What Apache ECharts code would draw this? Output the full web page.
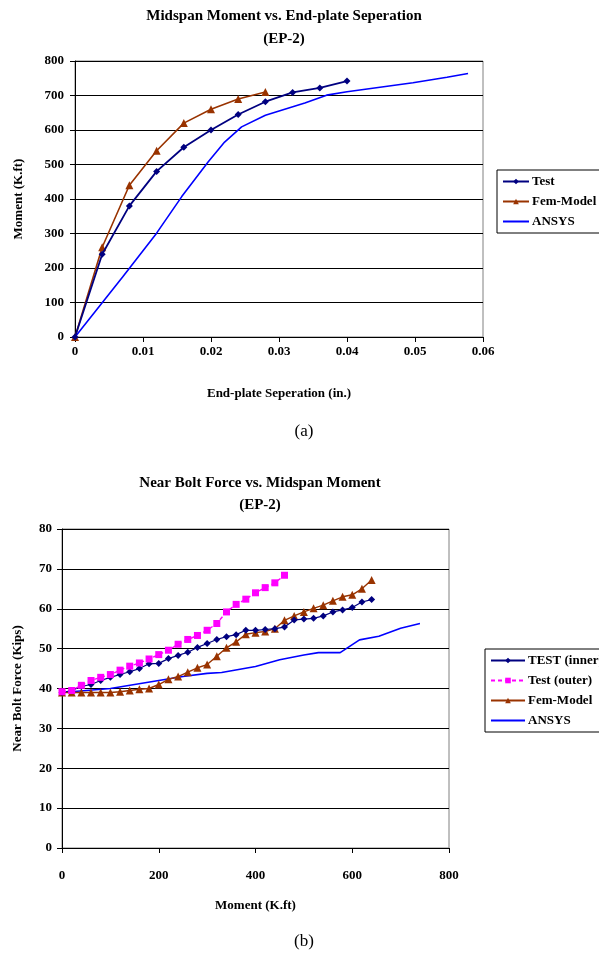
<!DOCTYPE html>
<html>
<head>
<meta charset="utf-8">
<script src="https://cdn.jsdelivr.net/npm/echarts@6/dist/echarts.min.js"></script>
<style>
html,body{margin:0;padding:0;background:#fff;}
#chart{width:599px;height:954px;}
</style>
</head>
<body>
<div id="chart"></div>
<script>
// ---- Chart (a): Midspan Moment vs. End-plate Seperation ----
const sepTest = [0, 0.004, 0.008, 0.012, 0.016, 0.020, 0.024, 0.028, 0.032, 0.036, 0.040];
const momTest = [0, 240, 380, 480, 550, 600, 645, 682, 709, 722, 742];
const sepFem = [0, 0.004, 0.008, 0.012, 0.016, 0.020, 0.024, 0.028];
const momFem = [0, 260, 440, 540, 620, 660, 690, 710];
const sepAnsys = [0, 0.007, 0.012, 0.0157, 0.0196, 0.022, 0.0245, 0.028, 0.0338, 0.037, 0.040, 0.0497, 0.0547, 0.0578];
const momAnsys = [0, 174, 301, 407, 508, 565, 609, 643, 678, 701, 711, 737, 753, 764];

// ---- Chart (b): Near Bolt Force vs. Midspan Moment ----
const momInner = [0, 20, 40, 60, 80, 100, 120, 140, 160, 180, 200, 220, 240, 260, 280, 300, 320, 340, 360, 380, 400, 420, 440, 460, 480, 500, 520, 540, 560, 580, 600, 620, 640];
const forceInner = [39, 39.5, 40.5, 41, 42, 42.8, 43.5, 44.2, 45, 46.2, 46.3, 47.5, 48.3, 49.1, 50.3, 51.3, 52.3, 53, 53.5, 54.6, 54.6, 54.8, 55, 55.4, 57.2, 57.4, 57.6, 58.2, 59.2, 59.7, 60.3, 61.7, 62.3];
const momOuter = [0, 20, 40, 60, 80, 100, 120, 140, 160, 180, 200, 220, 240, 260, 280, 300, 320, 340, 360, 380, 400, 420, 440, 460];
const forceOuter = [39.2, 39.5, 40.8, 42.0, 42.8, 43.5, 44.6, 45.6, 46.4, 47.4, 48.5, 49.6, 51.1, 52.3, 53.3, 54.6, 56.3, 59.2, 61.1, 62.4, 64.0, 65.3, 66.5, 68.4];
const momFemB = [0, 20, 40, 60, 80, 100, 120, 140, 160, 180, 200, 220, 240, 260, 280, 300, 320, 340, 360, 380, 400, 420, 440, 460, 480, 500, 520, 540, 560, 580, 600, 620, 640];
const forceFemB = [39, 39, 39, 39, 39, 39, 39.2, 39.5, 39.8, 40, 41, 42.3, 43, 44.1, 45.2, 46, 48.1, 50.2, 51.7, 53.6, 54, 54.3, 55, 57.1, 58.2, 59.2, 60.1, 60.9, 62, 63, 63.5, 65, 67.2];
const momAnsysB = [0, 100, 200, 250, 300, 330, 400, 450, 500, 530, 575, 615, 655, 700, 740];
const forceAnsysB = [39, 40, 42, 43, 43.8, 44, 45.5, 47.2, 48.4, 49, 49, 52.2, 53.1, 55.1, 56.3];

const xTicksA = ['0', '0.01', '0.02', '0.03', '0.04', '0.05', '0.06'];
const yTicksA = ['0', '100', '200', '300', '400', '500', '600', '700', '800'];
const xTicksB = ['0', '200', '400', '600', '800'];
const yTicksB = ['0', '10', '20', '30', '40', '50', '60', '70', '80'];

const pair = (xs, ys) => xs.map((x, i) => [x, ys[i]]);

const FONT = '"Liberation Serif", "Times New Roman", serif';
const NAVY = '#000080', BROWN = '#993300', BLUE = '#0000FF', MAGENTA = '#FF00FF';

function axisCommon(extra) {
  return Object.assign({
    axisLine: { show: true, onZero: false, lineStyle: { color: '#000', width: 1 } },
    axisTick: { show: true, inside: false, length: 5, lineStyle: { color: '#000' } },
    splitLine: { show: false },
    axisLabel: { color: '#000', fontFamily: FONT, fontWeight: 'bold', fontSize: 13 },
    nameTextStyle: { color: '#000', fontFamily: FONT, fontWeight: 'bold', fontSize: 13 },
    nameLocation: 'middle'
  }, extra);
}

const legendText = { fontFamily: FONT, fontWeight: 'bold', fontSize: 13, color: '#000', padding: [0, 0, 0, -2] };
const noSymbol = { opacity: 0 };

const chart = echarts.init(document.getElementById('chart'), null, { renderer: 'canvas' });

const option = {
  backgroundColor: '#fff',
  animation: false,
  title: [
    { text: 'Midspan Moment vs. End-plate Seperation\n(EP-2)', left: 279, top: 0, textAlign: 'center',
      textStyle: { fontFamily: FONT, fontWeight: 'bold', fontSize: 15, color: '#000', lineHeight: 23 } },
    { text: 'Near Bolt Force vs. Midspan Moment\n(EP-2)', left: 255, top: 467, textAlign: 'center',
      textStyle: { fontFamily: FONT, fontWeight: 'bold', fontSize: 15, color: '#000', lineHeight: 22 } },
    { text: '(a)', left: 299, top: 418, textAlign: 'center',
      textStyle: { fontFamily: FONT, fontWeight: 'normal', fontSize: 17, color: '#000' } },
    { text: '(b)', left: 299, top: 928, textAlign: 'center',
      textStyle: { fontFamily: FONT, fontWeight: 'normal', fontSize: 17, color: '#000' } }
  ],
  legend: [
    { data: ['Test', 'Fem-Model', { name: 'ANSYS', itemStyle: noSymbol }], orient: 'vertical', left: 497, top: 170,
      itemWidth: 26, itemHeight: 7, itemGap: 7, selectedMode: false,
      backgroundColor: '#fff', borderColor: '#000', borderWidth: 1, borderRadius: 0,
      padding: [5, 4, 5, 5], textStyle: legendText },
    { data: ['TEST (inner)', 'Test (outer)', 'Fem-Model', { name: 'ANSYS', itemStyle: noSymbol }], orient: 'vertical', left: 485, top: 649,
      itemWidth: 34, itemHeight: 7, itemGap: 7, selectedMode: false,
      backgroundColor: '#fff', borderColor: '#000', borderWidth: 1, borderRadius: 0,
      padding: [5, 4, 5, 5], textStyle: legendText }
  ],
  grid: [
    { left: 75, top: 61, width: 408, height: 276, show: true, borderColor: '#808080', borderWidth: 1, backgroundColor: 'transparent' },
    { left: 62, top: 529, width: 387, height: 319, show: true, borderColor: '#808080', borderWidth: 1, backgroundColor: 'transparent' }
  ],
  xAxis: [
    axisCommon({ type: 'value', gridIndex: 0, min: 0, max: 0.06, interval: 0.01,
      name: 'End-plate Seperation (in.)', nameGap: 50,
      axisLabel: { color: '#000', fontFamily: FONT, fontWeight: 'bold', fontSize: 13, margin: 8,
        formatter: v => xTicksA[Math.round(v / 0.01)] } }),
    axisCommon({ type: 'value', gridIndex: 1, min: 0, max: 800, interval: 200,
      name: 'Moment (K.ft)', nameGap: 51,
      axisLabel: { color: '#000', fontFamily: FONT, fontWeight: 'bold', fontSize: 13, margin: 21,
        formatter: v => xTicksB[Math.round(v / 200)] } })
  ],
  yAxis: [
    axisCommon({ type: 'value', gridIndex: 0, min: 0, max: 800, interval: 100,
      name: 'Moment (K.ft)', nameGap: 50, nameRotate: 90,
      splitLine: { show: true, lineStyle: { color: '#000', width: 1 } },
      axisLabel: { color: '#000', fontFamily: FONT, fontWeight: 'bold', fontSize: 13, margin: 11,
        formatter: v => yTicksA[Math.round(v / 100)] } }),
    axisCommon({ type: 'value', gridIndex: 1, min: 0, max: 80, interval: 10,
      name: 'Near Bolt Force (Kips)', nameGap: 38, nameRotate: 90,
      splitLine: { show: true, lineStyle: { color: '#000', width: 1 } },
      axisLabel: { color: '#000', fontFamily: FONT, fontWeight: 'bold', fontSize: 13, margin: 10,
        formatter: v => yTicksB[Math.round(v / 10)] } })
  ],
  series: [
    { name: 'Test', type: 'line', xAxisIndex: 0, yAxisIndex: 0, data: pair(sepTest, momTest),
      symbol: 'diamond', symbolSize: 7, lineStyle: { color: NAVY, width: 1.8 }, itemStyle: { color: NAVY }, z: 4 },
    { name: 'Fem-Model', type: 'line', xAxisIndex: 0, yAxisIndex: 0, data: pair(sepFem, momFem),
      symbol: 'triangle', symbolSize: 8, lineStyle: { color: BROWN, width: 1.6 }, itemStyle: { color: BROWN }, z: 3 },
    { name: 'ANSYS', type: 'line', xAxisIndex: 0, yAxisIndex: 0, data: pair(sepAnsys, momAnsys),
      showSymbol: false, lineStyle: { color: BLUE, width: 1.6 }, itemStyle: { color: BLUE }, z: 2 },

    { name: 'TEST (inner)', type: 'line', xAxisIndex: 1, yAxisIndex: 1, data: pair(momInner, forceInner),
      symbol: 'diamond', symbolSize: 7, lineStyle: { color: NAVY, width: 1.2 }, itemStyle: { color: NAVY }, z: 4 },
    { name: 'Test (outer)', type: 'line', xAxisIndex: 1, yAxisIndex: 1, data: pair(momOuter, forceOuter),
      symbol: 'rect', symbolSize: 7, lineStyle: { color: MAGENTA, width: 1.4, type: [4, 3] }, itemStyle: { color: MAGENTA }, z: 5 },
    { name: 'Fem-Model', type: 'line', xAxisIndex: 1, yAxisIndex: 1, data: pair(momFemB, forceFemB),
      symbol: 'triangle', symbolSize: 8, lineStyle: { color: BROWN, width: 1.4 }, itemStyle: { color: BROWN }, z: 3 },
    { name: 'ANSYS', type: 'line', xAxisIndex: 1, yAxisIndex: 1, data: pair(momAnsysB, forceAnsysB),
      showSymbol: false, lineStyle: { color: BLUE, width: 1.6 }, itemStyle: { color: BLUE }, z: 2 }
  ]
};
chart.setOption(option);
</script>
</body>
</html>
